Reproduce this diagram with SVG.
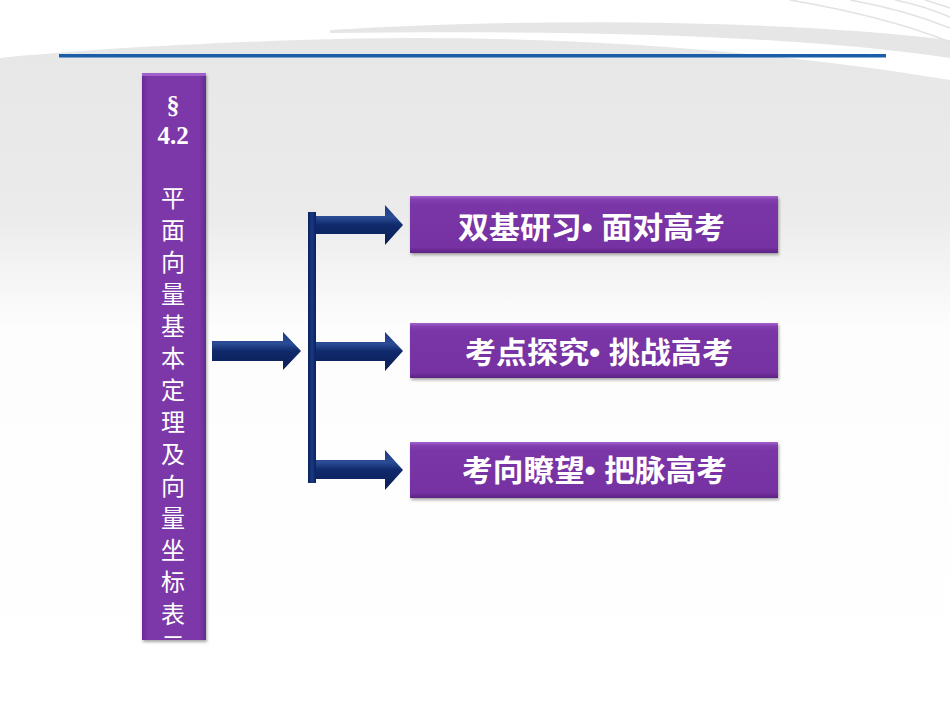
<svg xmlns="http://www.w3.org/2000/svg" width="950" height="713" viewBox="0 0 950 713">
  <style>
    .box { fill: url(#purpleGrad); filter: url(#shadow); }
    .boxText { font-family: "Noto Sans CJK SC", "Noto Sans", sans-serif; font-weight: bold; font-size: 30px; fill: #ffffff; text-anchor: middle; }
    .dot { font-family: "Liberation Sans", "Noto Sans CJK SC", sans-serif; }
    .vText { font-family: "Noto Sans CJK SC", "Noto Sans", sans-serif; font-size: 24px; fill: #ffffff; text-anchor: middle; }
    .numText { font-family: "Liberation Serif", "Noto Sans CJK SC", serif; font-weight: bold; fill: #ffffff; text-anchor: middle; }
    .arrow { fill: url(#navyGrad); }
    .deco { fill: none; stroke: #e2e2e2; stroke-width: 1.5; }
  </style>
  <defs>
    <linearGradient id="bgGrad" x1="0" y1="0" x2="0" y2="1">
      <stop offset="0" stop-color="#e6e6e6"/>
      <stop offset="0.3" stop-color="#ebebeb"/>
      <stop offset="0.46" stop-color="#fdfdfd"/>
      <stop offset="1" stop-color="#ffffff"/>
    </linearGradient>
    <linearGradient id="purpleGrad" x1="0" y1="0" x2="0" y2="1">
      <stop offset="0" stop-color="#a565d0"/>
      <stop offset="0.06" stop-color="#8440b0"/>
      <stop offset="0.15" stop-color="#7a35a6"/>
      <stop offset="0.9" stop-color="#7632a2"/>
      <stop offset="1" stop-color="#5c2384"/>
    </linearGradient>
    <linearGradient id="barGrad" x1="0" y1="0" x2="1" y2="0">
      <stop offset="0" stop-color="#6a2b96"/>
      <stop offset="0.1" stop-color="#7b37a8"/>
      <stop offset="0.9" stop-color="#7b37a8"/>
      <stop offset="1" stop-color="#642a8f"/>
    </linearGradient>
    <linearGradient id="navyGrad" x1="0" y1="0" x2="0" y2="1">
      <stop offset="0" stop-color="#1a3780"/>
      <stop offset="0.3" stop-color="#2b4d96"/>
      <stop offset="0.5" stop-color="#10296a"/>
      <stop offset="1" stop-color="#0a1f56"/>
    </linearGradient>
    <linearGradient id="vbarGrad" x1="0" y1="0" x2="1" y2="0">
      <stop offset="0" stop-color="#0b2159"/>
      <stop offset="0.5" stop-color="#1a3a85"/>
      <stop offset="1" stop-color="#0b2159"/>
    </linearGradient>
    <filter id="shadow" x="-5%" y="-10%" width="110%" height="130%">
      <feDropShadow dx="1" dy="2" stdDeviation="1.5" flood-color="#000000" flood-opacity="0.35"/>
    </filter>
    <clipPath id="barClip">
      <rect x="142" y="73" width="64" height="567"/>
    </clipPath>
  </defs>

  <!-- background -->
  <rect x="0" y="0" width="950" height="713" fill="url(#bgGrad)"/>
  <path d="M0,0 H950 V80 C760,48 520,32 300,40 C180,44 80,50 0,58 Z" fill="#ffffff"/>
  <path d="M330,30 C560,16 800,22 950,40 L950,58 C800,36 600,30 330,33 Z" fill="#e6e6e6"/>
  <path class="deco" d="M790,0 C860,12 910,26 950,42"/>
  <path class="deco" d="M850,0 C895,8 925,18 950,28"/>
  <path class="deco" d="M895,0 C920,5 938,12 950,17"/>
  <path class="deco" d="M925,0 C935,3 944,6 950,8"/>
  <rect x="59" y="54" width="827" height="3.5" fill="#1b5ea7"/>

  <!-- topic node -->
  <g id="topic">
    <rect x="142" y="73" width="64" height="567" fill="url(#barGrad)" filter="url(#shadow)"/>
    <rect x="142" y="73" width="64" height="3" fill="#a060cc"/>
    <g clip-path="url(#barClip)">
      <text class="numText" x="173" y="114" font-size="26">§</text>
      <text class="numText" x="173" y="144" font-size="25">4.2</text>
      <text class="vText" x="173" y="207">平</text>
      <text class="vText" x="173" y="239">面</text>
      <text class="vText" x="173" y="271">向</text>
      <text class="vText" x="173" y="303">量</text>
      <text class="vText" x="173" y="335">基</text>
      <text class="vText" x="173" y="367">本</text>
      <text class="vText" x="173" y="399">定</text>
      <text class="vText" x="173" y="431">理</text>
      <text class="vText" x="173" y="463">及</text>
      <text class="vText" x="173" y="495">向</text>
      <text class="vText" x="173" y="527">量</text>
      <text class="vText" x="173" y="559">坐</text>
      <text class="vText" x="173" y="591">标</text>
      <text class="vText" x="173" y="623">表</text>
      <text class="vText" x="173" y="655">示</text>
    </g>
  </g>

  <!-- connectors -->
  <g id="connectors">
    <path class="arrow" d="M212,341 H283 V332 L301,351 L283,370 V361 H212 Z"/>
    <rect x="308" y="212" width="8" height="271" fill="url(#vbarGrad)"/>
    <path class="arrow" d="M316,216 H385 V205 L403,225 L385,245 V234 H316 Z"/>
    <path class="arrow" d="M316,342 H385 V332 L403,351 L385,371 V361 H316 Z"/>
    <path class="arrow" d="M316,460 H385 V450 L403,470 L385,490 V479 H316 Z"/>
  </g>

  <!-- target nodes -->
  <g id="box1">
    <rect class="box" x="410" y="196" width="368" height="57"/>
    <text class="boxText" x="591.5" y="238" textLength="267" lengthAdjust="spacingAndGlyphs">双基研习<tspan class="dot">• </tspan>面对高考</text>
  </g>
  <g id="box2">
    <rect class="box" x="410" y="323" width="368" height="55"/>
    <text class="boxText" x="599" y="363" textLength="268" lengthAdjust="spacingAndGlyphs">考点探究<tspan class="dot">• </tspan>挑战高考</text>
  </g>
  <g id="box3">
    <rect class="box" x="410" y="442" width="368" height="56"/>
    <text class="boxText" x="594.5" y="481" textLength="265" lengthAdjust="spacingAndGlyphs">考向瞭望<tspan class="dot">• </tspan>把脉高考</text>
  </g>
</svg>
